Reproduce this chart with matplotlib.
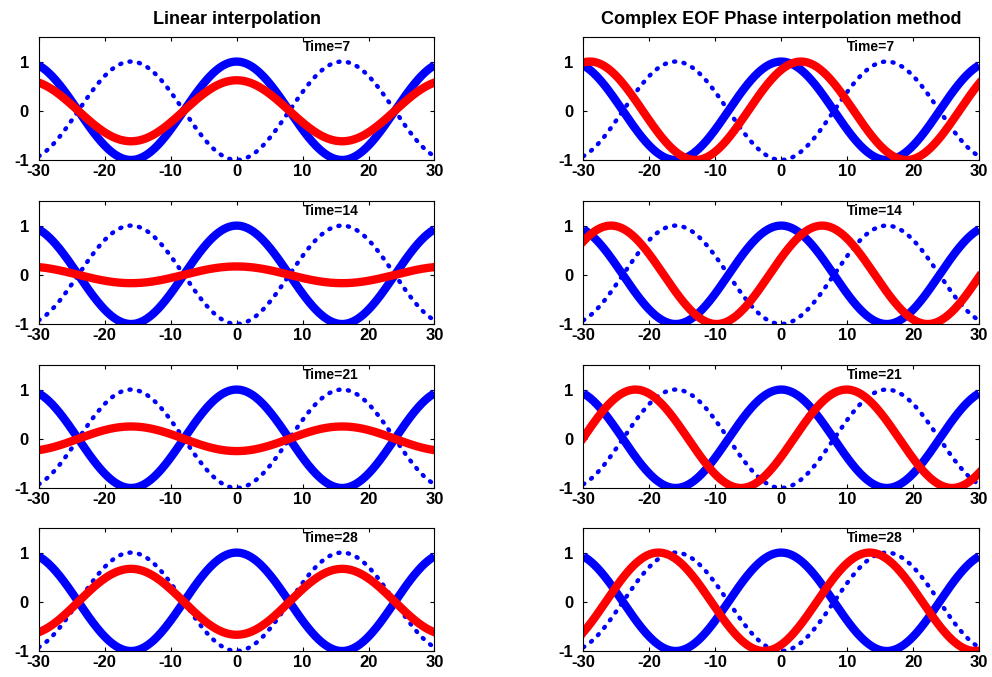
import numpy as np
import matplotlib.pyplot as plt

plt.rcParams['font.family'] = ['Liberation Sans', 'DejaVu Sans']
plt.rcParams['font.weight'] = 'bold'
plt.rcParams['axes.unicode_minus'] = False

# values
times = [7, 14, 21, 28]
period = 32.0                          # wavelength of all the waves
linear_amp = [0.62, 0.17, -0.25, -0.67]  # amplitude of red wave, linear interpolation
phase_shift = [3.0, 6.2, 9.9, 13.4]      # crest position of red wave, complex EOF method
titles = ['Linear interpolation', 'Complex EOF Phase interpolation method']
xticks = [-30, -20, -10, 0, 10, 20, 30]
yticks = [-1, 0, 1]

x = np.linspace(-30, 30, 601)
k = 2 * np.pi / period
start = np.cos(k * x)
end = -np.cos(k * x)

fig = plt.figure(figsize=(9.92, 6.77), dpi=100)
lefts = [0.039, 0.588]
bottoms = [0.7637, 0.5214, 0.2792, 0.0384]
w, h = 0.399, 0.1817

for r, t in enumerate(times):
    for c in range(2):
        ax = fig.add_axes([lefts[c], bottoms[r], w, h])
        ax.plot(x, start, color='b', lw=6, solid_capstyle='butt')
        ax.plot(x, end, color='b', lw=3.2, linestyle=(0, (0.25, 1.9)),
                dash_capstyle='round')
        if c == 0:
            red = linear_amp[r] * np.cos(k * x)
        else:
            red = np.cos(k * (x - phase_shift[r]))
        ax.plot(x, red, color='r', lw=6)
        ax.set_xlim(-30, 30)
        ax.set_ylim(-1, 1.5)
        ax.set_xticks(xticks)
        ax.set_yticks(yticks)
        ax.tick_params(direction='in', top=True, right=True, length=3,
                       labelsize=12)
        ax.tick_params(axis='x', pad=3)
        ax.tick_params(axis='y', pad=7)
        for lab in ax.get_xticklabels() + ax.get_yticklabels():
            lab.set_fontweight('bold')
        ax.text(10, 1.3, 'Time=%d' % t, fontsize=10, fontweight='bold',
                va='center', ha='left')
        if r == 0:
            ax.set_title(titles[c], fontsize=13, fontweight='bold', pad=9)

fig.savefig('out.png', dpi=100)
